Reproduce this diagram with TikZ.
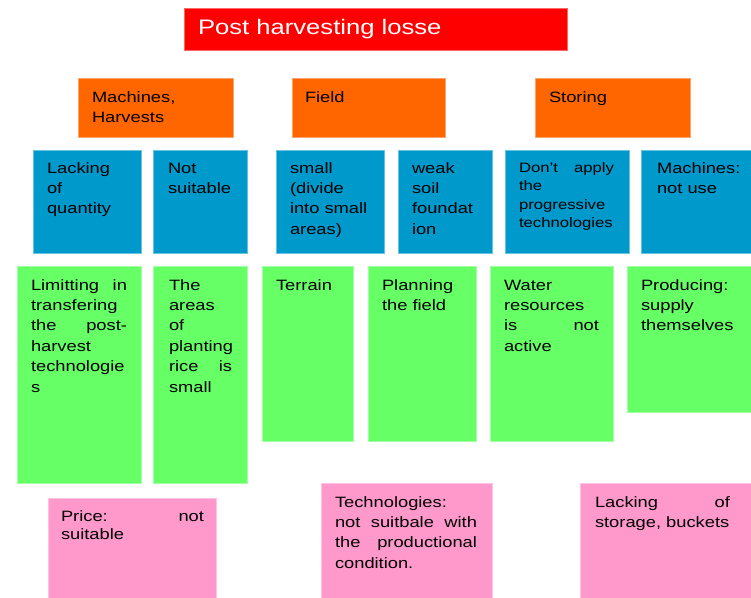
\documentclass[tikz,border=0pt]{standalone}
\usepackage{fontspec}
\setmainfont{Liberation Sans}[FakeStretch=1.22]
\definecolor{cred}{HTML}{FF0000}
\definecolor{corange}{HTML}{FF6600}
\definecolor{cblue}{HTML}{0099CC}
\definecolor{cgreen}{HTML}{66FF66}
\definecolor{cpink}{HTML}{FF99CC}
\newcommand\js[1]{\makebox[\linewidth][s]{#1}}
\newcommand\tbox[2]{\parbox[t]{#1}{#2}}
\tikzset{
  box/.style={anchor=north west, inner sep=0pt, outer sep=0pt, line width=0.5pt},
  redbox/.style={box, fill=cred, draw=cred!60!white},
  orbox/.style={box, fill=corange, draw=corange!60!white, minimum height=59pt},
  bluebox/.style={box, fill=cblue, draw=cblue!60!white, minimum height=103pt},
  greenbox/.style={box, fill=cgreen, draw=cgreen!60!white},
  pinkbox/.style={box, fill=cpink, draw=cpink!60!white},
  txt/.style={anchor=base west, inner sep=0pt, outer sep=0pt, font=\fontsize{15}{20.4}\selectfont},
}
\begin{document}
\begin{tikzpicture}[x=1pt,y=-1pt]
\useasboundingbox (0,0) rectangle (751,597);
% title
\node[redbox, minimum width=383pt, minimum height=42pt] (title) at (184,8) {};
\node[txt, text=white, font=\fontsize{21}{25}\selectfont] (titlet) at (198,34) {Post harvesting losse};
% orange
\node[orbox, minimum width=155pt] (o1) at (78,78) {};
\node[orbox, minimum width=153pt] (o2) at (292,78) {};
\node[orbox, minimum width=155pt] (o3) at (535,78) {};
\node[txt] (o1t) at (92,102) {\tbox{120pt}{Machines,\\Harvests}};
\node[txt] (o2t) at (305,102) {Field};
\node[txt] (o3t) at (549,102) {Storing};
% blue
\node[bluebox, minimum width=108pt] (b1) at (33,150) {};
\node[bluebox, minimum width=94pt] (b2) at (153,150) {};
\node[bluebox, minimum width=108pt] (b3) at (276,150) {};
\node[bluebox, minimum width=94pt] (b4) at (398,150) {};
\node[bluebox, minimum width=124pt] (b5) at (505,150) {};
\node[bluebox, minimum width=112pt] (b6) at (641,150) {};
\node[txt] (b1t) at (47,173) {\tbox{80pt}{Lacking\\of\\quantity}};
\node[txt] (b2t) at (168,173) {\tbox{75pt}{Not\\suitable}};
\node[txt] (b3t) at (290,173) {\tbox{90pt}{small\\(divide\\into small\\areas)}};
\node[txt] (b4t) at (412,173) {\tbox{75pt}{weak\\soil\\foundat\\ion}};
\node[txt, font=\fontsize{13.7}{18.5}\selectfont] (b5t) at (519,172) {\tbox{95pt}{\js{Don't apply}\\the\\progressive\\technologies}};
\node[txt] (b6t) at (657,173) {\tbox{90pt}{Machines:\\not use}};
% green
\node[greenbox, minimum width=124pt, minimum height=217pt] (g1) at (17,266) {};
\node[greenbox, minimum width=94pt, minimum height=217pt] (g2) at (153,266) {};
\node[greenbox, minimum width=91pt, minimum height=175pt] (g3) at (262,266) {};
\node[greenbox, minimum width=108pt, minimum height=175pt] (g4) at (368,266) {};
\node[greenbox, minimum width=123pt, minimum height=175pt] (g5) at (490,266) {};
\node[greenbox, minimum width=126pt, minimum height=146pt] (g6) at (627,266) {};
\node[txt] (g1t) at (31,290) {\tbox{96pt}{\js{Limitting in}\\transfering\\\js{the post-}\\harvest\\technologie\\s}};
\node[txt] (g2t) at (169,290) {\tbox{63pt}{The\\areas\\of\\planting\\\js{rice is}\\small}};
\node[txt] (g3t) at (276,290) {Terrain};
\node[txt] (g4t) at (382,290) {\tbox{90pt}{Planning\\the field}};
\node[txt] (g5t) at (504,290) {\tbox{95pt}{Water\\resources\\\js{is not}\\active}};
\node[txt] (g6t) at (641,290) {\tbox{100pt}{Producing:\\supply\\themselves}};
% pink
\node[pinkbox, minimum width=168pt, minimum height=102pt] (p1) at (48,498) {};
\node[pinkbox, minimum width=171pt, minimum height=117pt] (p2) at (321,483) {};
\node[pinkbox, minimum width=174pt, minimum height=117pt] (p3) at (580,483) {};
\node[txt, font=\fontsize{15}{18.5}\selectfont] (p1t) at (61,521) {\tbox{143pt}{\js{Price: not}\\suitable}};
\node[txt] (p2t) at (335,507) {\tbox{142pt}{Technologies:\\\js{not suitbale with}\\\js{the productional}\\condition.}};
\node[txt] (p3t) at (595,507) {\tbox{135pt}{\js{Lacking of}\\storage, buckets}};
\end{tikzpicture}
\end{document}
